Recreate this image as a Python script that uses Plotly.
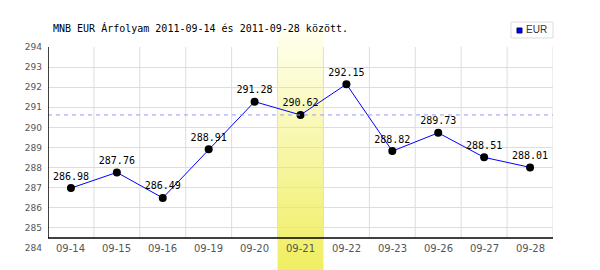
import plotly.graph_objects as go

title_text = "MNB EUR Árfolyam 2011-09-14 és 2011-09-28 között."
dates = ["09-14", "09-15", "09-16", "09-19", "09-20", "09-21",
         "09-22", "09-23", "09-26", "09-27", "09-28"]
eur = [286.98, 287.76, 286.49, 288.91, 291.28, 290.62,
       292.15, 288.82, 289.73, 288.51, 288.01]
highlight = "09-21"
ref_value = 290.62
series_name = "EUR"

Y0, Y1 = 284, 294
n = len(dates)
hi = dates.index(highlight)

fig = go.Figure()
fig.add_trace(go.Scatter(
    x=dates, y=eur, mode="lines+markers+text",
    line=dict(color="#0000ff", width=1),
    marker=dict(color="black", size=8),
    text=[f"{v:.2f}" for v in eur], textposition="top center",
    textfont=dict(family="DejaVu Sans Mono", size=10, color="black"),
    cliponaxis=False, showlegend=False, hoverinfo="skip"))

shapes = []
# highlight band gradient
top_p, bot_p = 1.0846, -0.1095
c_top = (255, 255, 240)
c_bot = (240, 238, 96)
N = 40
for i in range(N):
    t = (i + 0.5) / N
    col = tuple(round(c_top[k] + (c_bot[k] - c_top[k]) * t) for k in range(3))
    ya = top_p + (bot_p - top_p) * i / N
    yb = top_p + (bot_p - top_p) * (i + 1) / N
    shapes.append(dict(type="rect", xref="x", yref="paper",
                       x0=hi - 0.5, x1=hi + 0.5, y0=yb, y1=ya,
                       fillcolor="rgb(%d,%d,%d)" % col, line=dict(width=0),
                       layer="between"))
# vertical gridlines
for i in range(n):
    shapes.append(dict(type="line", xref="x", yref="y",
                       x0=i + 0.5, x1=i + 0.5, y0=Y0 + 0.5, y1=Y1,
                       line=dict(color="#dddddd", width=1), layer="below"))
# dashed reference line
shapes.append(dict(type="line", xref="x", yref="y", x0=-0.5, x1=n - 0.5,
                   y0=ref_value, y1=ref_value,
                   line=dict(color="#9999ff", width=1, dash="4px,4px"),
                   layer="above"))
# black axes
shapes.append(dict(type="line", xref="x", yref="y", x0=-0.5, x1=n - 0.5,
                   y0=Y0 + 0.5, y1=Y0 + 0.5,
                   line=dict(color="black", width=1.5), layer="above"))
shapes.append(dict(type="line", xref="x", yref="y", x0=-0.5, x1=-0.5,
                   y0=Y0 + 0.5, y1=Y1,
                   line=dict(color="black", width=1.5), layer="above"))
# legend box
shapes.append(dict(type="rect", xref="paper", yref="paper",
                   x0=0.9168, x1=1.0, y0=1.0448, y1=1.1244,
                   fillcolor="white", line=dict(color="#dddddd", width=1)))
shapes.append(dict(type="rect", xref="paper", yref="paper",
                   x0=0.9287, x1=0.9386, y0=1.0697, y1=1.0945,
                   fillcolor="#0000ff", line=dict(color="#000066", width=1)))

annotations = [dict(x=d, y=Y0, xref="x", yref="y", text=d, showarrow=False,
                    xanchor="center", yanchor="middle",
                    font=dict(family="DejaVu Sans", size=10, color="#555555"))
               for d in dates]
annotations.append(dict(x=0.9426, y=1.0846, xref="paper", yref="paper",
                        text=series_name, showarrow=False, xanchor="left",
                        yanchor="middle",
                        font=dict(family="Liberation Sans", size=10, color="#333333")))

fig.update_layout(
    width=600, height=270, margin=dict(l=48, r=47, t=47, b=22),
    paper_bgcolor="white", plot_bgcolor="white",
    title=dict(text=title_text, x=53 / 600, xref="container", xanchor="left",
               y=1 - 28 / 270, yanchor="middle",
               font=dict(family="DejaVu Sans Mono", size=10, color="black")),
    xaxis=dict(type="category", range=[-0.5, n - 0.5], showgrid=False,
               showticklabels=False, zeroline=False, showline=False,
               fixedrange=True),
    yaxis=dict(range=[Y0, Y1], dtick=1, showgrid=True, gridcolor="#dddddd",
               gridwidth=1, zeroline=False, showline=False, ticks="",
               ticklabelstandoff=5,
               tickfont=dict(family="DejaVu Sans", size=9, color="#555555"),
               fixedrange=True),
    shapes=shapes, annotations=annotations, showlegend=False,
)
fig.write_html("out.html")
